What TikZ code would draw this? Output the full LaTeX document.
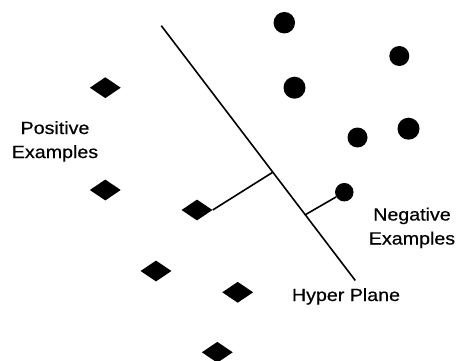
\documentclass[tikz,border=0pt]{standalone}
\usepackage{fontspec}
\setmainfont{Liberation Sans}
\newfontfamily\lblfont{Liberation Sans}[FakeBold=0.5]
\usetikzlibrary{shapes.geometric,calc}
\newcommand\widetext[1]{\scalebox{1.11}[1]{#1}}
\begin{document}
\begin{tikzpicture}[x=1pt,y=-1pt,
  posex/.style={diamond,fill=black,draw=none,inner sep=0pt,minimum width=31pt,minimum height=21pt},
  negex/.style={circle,fill=black,draw=none,inner sep=0pt,minimum size=#1},
  negex/.default=21pt,
  lbl/.style={inner sep=0pt,align=center,font=\lblfont\fontsize{17.7}{24}\selectfont},
  plane/.style={line width=1.6pt},
  margin/.style={line width=1.6pt}]
  \useasboundingbox (0,0) rectangle (458,361);

  % separating hyperplane
  \coordinate (top) at (161.3,25.7);
  \coordinate (bottom) at (355.3,280.5);
  \draw[plane] (top) -- (bottom);

  % positive examples
  \node[posex] (d1) at (105.3,87.7) {};
  \node[posex] (d2) at (105.3,190) {};
  \node[posex] (d3) at (197,210) {};
  \node[posex] (d4) at (156,271) {};
  \node[posex] (d5) at (237.7,292.3) {};
  \node[posex] (d6) at (217.3,352.3) {};

  % negative examples
  \node[negex=21.5pt] (c1) at (284.3,22.7) {};
  \node[negex=20pt] (c2) at (399.3,56) {};
  \node[negex=22pt] (c3) at (294.5,87.7) {};
  \node[negex=22pt] (c4) at (408.5,128.7) {};
  \node[negex=20pt] (c5) at (357.5,137.5) {};
  \node[negex=18.5pt] (c6) at (344.3,192.2) {};

  % distances from the closest examples to the plane
  \coordinate (f1) at ($(top)!0.575!(bottom)$);
  \coordinate (f2) at ($(top)!0.742!(bottom)$);
  \draw[margin] (d3.east) -- (f1);
  \draw[margin] (c6) -- (f2);

  % labels
  \node[lbl,anchor=north] (lp) at (55,121) {\widetext{Positive}\\\widetext{Examples}};
  \node[lbl,anchor=north] (ln) at (412,207.5) {\widetext{Negative}\\\widetext{Examples}};
  \node[lbl,anchor=north] (lh) at (346,288) {\widetext{Hyper Plane}};
\end{tikzpicture}
\end{document}
